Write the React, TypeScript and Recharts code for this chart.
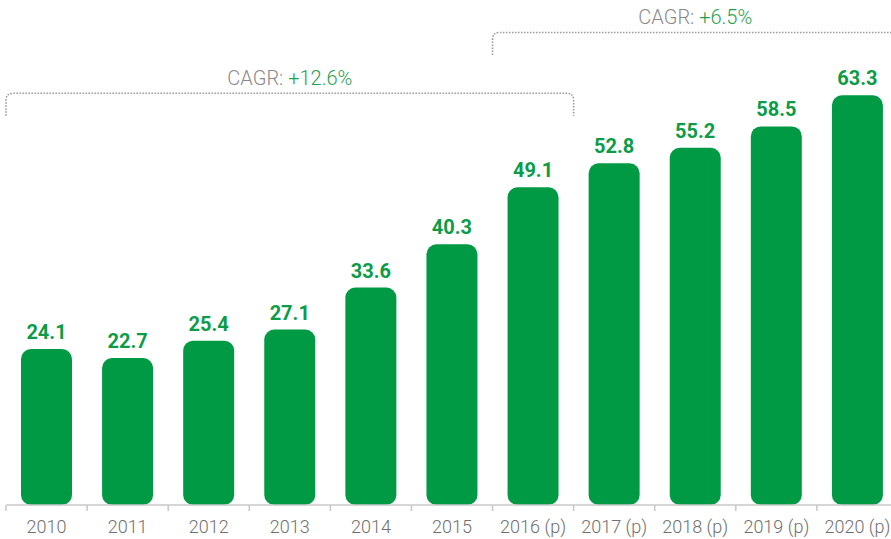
import React from 'react';
import { BarChart, Bar, XAxis, YAxis, LabelList, Customized } from 'recharts';

const years = ['2010', '2011', '2012', '2013', '2014', '2015', '2016 (p)', '2017 (p)', '2018 (p)', '2019 (p)', '2020 (p)'];
const values = [24.1, 22.7, 25.4, 27.1, 33.6, 40.3, 49.1, 52.8, 55.2, 58.5, 63.3];

const cagrFrom = ['2010', '2016 (p)'];
const cagrTo = ['2016 (p)', '2020 (p)'];
const cagrValues = ['+12.6%', '+6.5%'];

const data = years.map((year, i) => ({ year, value: values[i] }));

const CHART_W = 900;
const CHART_H = 539;
const MARGIN = { top: 52, right: 2, bottom: 0, left: 6 };
const XAXIS_H = 34;
const PLOT_W = CHART_W - MARGIN.left - MARGIN.right;
const BAND = PLOT_W / years.length;
const AXIS_Y = CHART_H - MARGIN.bottom - XAXIS_H;

const GREEN = '#009a44';
const LABEL_GREEN = '#0c9c48';
const GRAY_TEXT = '#707070';
const FONT = 'Roboto, "Open Sans", sans-serif';

const bracketTop = [93.3, 32.5];
const bracketDrop = 22.5;

const Tick = (props: any) => {
  const { x, payload } = props;
  return (
    <g>
      <line x1={x - BAND / 2} x2={x - BAND / 2} y1={AXIS_Y} y2={AXIS_Y + 6} stroke="#c8c8c8" strokeWidth={1.5} />
      <text x={x} y={AXIS_Y + 27.5} textAnchor="middle" fill={GRAY_TEXT} fontSize={18} fontWeight={300} fontFamily={FONT}>
        {payload.value}
      </text>
    </g>
  );
};

const Brackets = () => {
  const r = 7;
  return (
    <g>
      {cagrFrom.map((from, i) => {
        const x1 = MARGIN.left + years.indexOf(from) * BAND;
        const x2 = MARGIN.left + (years.indexOf(cagrTo[i]) + 1) * BAND;
        const yt = bracketTop[i];
        const yb = yt + bracketDrop;
        const d = `M ${x1} ${yb} V ${yt + r} Q ${x1} ${yt} ${x1 + r} ${yt} H ${x2 - r} Q ${x2} ${yt} ${x2} ${yt + r} V ${yb}`;
        return (
          <g key={i}>
            <path d={d} fill="none" stroke="#9a9a9a" strokeWidth={1.6} strokeDasharray="1.5 1.5" />
            <text x={(x1 + x2) / 2} y={yt - 8.5} textAnchor="middle" fontSize={20} fontWeight={300} fontFamily={FONT}>
              <tspan fill="#8a8a8a">CAGR: </tspan>
              <tspan fill="#1fa050">{cagrValues[i]}</tspan>
            </text>
          </g>
        );
      })}
    </g>
  );
};

export default function App() {
  return (
    <div style={{ position: 'absolute', left: 0, top: 0, width: 891, height: 539, overflow: 'hidden', background: '#fff' }}>
      <BarChart width={CHART_W} height={CHART_H} data={data} margin={MARGIN}>
        <YAxis hide domain={[0, 70]} />
        <XAxis
          dataKey="year"
          height={XAXIS_H}
          interval={0}
          tickLine={false}
          axisLine={{ stroke: '#c8c8c8', strokeWidth: 1.5 }}
          tick={<Tick />}
        />
        <Bar dataKey="value" fill={GREEN} barSize={51} radius={10} isAnimationActive={false}>
          <LabelList
            dataKey="value"
            position="top"
            offset={10}
            formatter={(v: any) => Number(v).toFixed(1)}
            style={{ fill: LABEL_GREEN, fontSize: 20, fontWeight: 700, fontFamily: FONT }}
          />
        </Bar>
        <Customized component={<Brackets />} />
      </BarChart>
    </div>
  );
}
